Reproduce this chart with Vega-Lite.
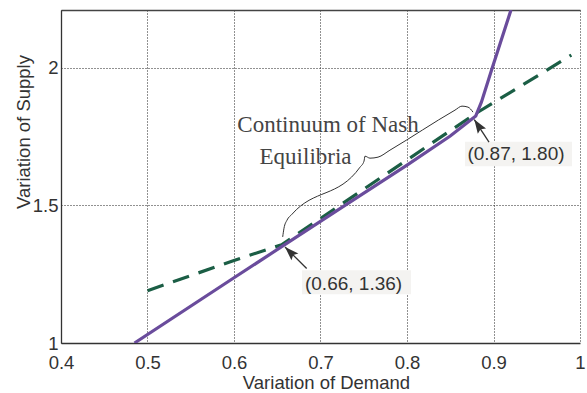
{
  "$schema": "https://vega.github.io/schema/vega-lite/v6.json",
  "width": 519,
  "height": 333,
  "autosize": {"type": "none"},
  "padding": {"left": 61, "top": 10, "right": 7, "bottom": 50},
  "background": "white",
  "config": {"view": {"stroke": null}},
  "datasets": {
    "purple": [
      {"x": 0.485, "y": 1.0},
      {"x": 0.6, "y": 1.237},
      {"x": 0.66, "y": 1.36},
      {"x": 0.7283, "y": 1.5},
      {"x": 0.8, "y": 1.646},
      {"x": 0.85, "y": 1.752},
      {"x": 0.8795, "y": 1.825},
      {"x": 0.886, "y": 1.875},
      {"x": 0.8986, "y": 2.0},
      {"x": 0.9202, "y": 2.21}
    ],
    "green": [
      {"x": 0.5, "y": 1.19},
      {"x": 0.6, "y": 1.3},
      {"x": 0.655, "y": 1.357},
      {"x": 0.88, "y": 1.835},
      {"x": 0.99, "y": 2.046}
    ],
    "brace": [
      {"i": 1, "x": 0.6563, "y": 1.3855},
      {"i": 2, "x": 0.6578, "y": 1.4171},
      {"i": 3, "x": 0.6613, "y": 1.4465},
      {"i": 4, "x": 0.6671, "y": 1.468},
      {"i": 5, "x": 0.7457, "y": 1.6389},
      {"i": 6, "x": 0.7503, "y": 1.6607},
      {"i": 7, "x": 0.7514, "y": 1.6789},
      {"i": 8, "x": 0.7572, "y": 1.6716},
      {"i": 9, "x": 0.7665, "y": 1.6753},
      {"i": 10, "x": 0.7803, "y": 1.7007},
      {"i": 11, "x": 0.8555, "y": 1.8462},
      {"i": 12, "x": 0.8636, "y": 1.8607},
      {"i": 13, "x": 0.8705, "y": 1.8571},
      {"i": 14, "x": 0.8763, "y": 1.8389}
    ],
    "notes": [
      {"x": 0.7087, "y": 1.767, "label": "Continuum of Nash"},
      {"x": 0.6827, "y": 1.652, "label": "Equilibria"}
    ],
    "pts": [
      {"x": 0.926, "y": 1.6644, "label": "(0.87, 1.80)"},
      {"x": 0.7382, "y": 1.194, "label": "(0.66, 1.36)"}
    ],
    "boxes": [
      {"x": 0.867, "x2": 0.9908, "y": 1.6425, "y2": 1.7309},
      {"x": 0.6786, "x2": 0.8046, "y": 1.1771, "y2": 1.2644}
    ],
    "arrows": [
      {"x": 0.8948, "y": 1.73, "x2": 0.8778, "y2": 1.812},
      {"x": 0.684, "y": 1.2705, "x2": 0.659, "y2": 1.349}
    ],
    "heads": [
      {"x": 0.8822, "y": 1.791, "p": "a"},
      {"x": 0.6647, "y": 1.331, "p": "b"}
    ]
  },
  "encoding": {
    "x": {"field": "x", "type": "quantitative", "scale": {"domain": [0.4, 1], "nice": false, "zero": false}, "axis": null},
    "y": {"field": "y", "type": "quantitative", "scale": {"domain": [1, 2.21], "nice": false, "zero": false}, "axis": null}
  },
  "layer": [
    {
      "data": {"name": "green"},
      "mark": {"type": "line", "color": "#1b5e45", "strokeWidth": 3.2, "strokeDash": [17, 10], "clip": true},
      "encoding": {
        "x": {"field": "x", "type": "quantitative", "scale": {"domain": [0.4, 1], "nice": false, "zero": false},
          "axis": {"orient": "top", "labels": false, "ticks": false, "grid": false, "domain": true, "domainColor": "#444", "domainWidth": 1.5, "title": null}}
      }
    },
    {
      "data": {"name": "purple"},
      "mark": {"type": "line", "color": "#6a4c9c", "strokeWidth": 3.2, "clip": true},
      "encoding": {
        "x": {"field": "x", "type": "quantitative", "scale": {"domain": [0.4, 1], "nice": false, "zero": false},
          "axis": {"orient": "bottom", "values": [0.4, 0.5, 0.6, 0.7, 0.8, 0.9, 1.0], "format": "~g", "ticks": false,
            "labelPadding": 10, "labelFlush": false, "labelOverlap": false, "labelFont": "Liberation Sans", "labelFontSize": 18.5, "labelColor": "#333",
            "grid": true, "gridColor": "#222", "gridDash": [1, 2], "gridOpacity": 1, "gridWidth": 1,
            "domain": true, "domainColor": "#333", "domainWidth": 1.3,
            "title": "Variation of Demand", "titleFont": "Liberation Sans", "titleFontSize": 18.5, "titleFontWeight": "normal", "titleColor": "#333",
            "titleX": 265, "titleY": 45, "titleBaseline": "alphabetic", "titleAlign": "center"}},
        "y": {"field": "y", "type": "quantitative", "scale": {"domain": [1, 2.21], "nice": false, "zero": false},
          "axis": {"orient": "left", "values": [1, 1.5, 2], "format": "~g", "ticks": false,
            "labelPadding": 3, "labelFlush": false, "labelOverlap": false, "labelFont": "Liberation Sans", "labelFontSize": 18.5, "labelColor": "#333",
            "grid": true, "gridColor": "#222", "gridDash": [1, 2], "gridOpacity": 1, "gridWidth": 1,
            "domain": true, "domainColor": "#333", "domainWidth": 1.3,
            "title": "Variation of Supply", "titleFont": "Liberation Sans", "titleFontSize": 18.5, "titleFontWeight": "normal", "titleColor": "#333",
            "titleAngle": -90, "titleX": -38, "titleY": 121.5, "titleBaseline": "middle", "titleAlign": "center"}}
      }
    },
    {
      "data": {"name": "brace"},
      "mark": {"type": "line", "color": "#333", "strokeWidth": 1, "interpolate": "monotone"},
      "encoding": {"order": {"field": "i", "type": "quantitative"}}
    },
    {
      "data": {"name": "boxes"},
      "mark": {"type": "rect", "color": "#f4f3f1"},
      "encoding": {
        "x2": {"field": "x2"},
        "y2": {"field": "y2"}
      }
    },
    {
      "data": {"name": "notes"},
      "mark": {"type": "text", "font": "Liberation Serif", "fontSize": 23, "color": "#444", "align": "center", "baseline": "alphabetic"},
      "encoding": {"text": {"field": "label"}}
    },
    {
      "data": {"name": "pts"},
      "mark": {"type": "text", "font": "Liberation Sans", "fontSize": 19, "color": "#333", "align": "center", "baseline": "alphabetic"},
      "encoding": {"text": {"field": "label"}}
    },
    {
      "data": {"name": "arrows"},
      "mark": {"type": "rule", "color": "#333", "strokeWidth": 1.3},
      "encoding": {
        "x2": {"field": "x2"},
        "y2": {"field": "y2"}
      }
    },
    {
      "data": {"name": "heads"},
      "transform": [{"filter": "datum.p === 'a'"}],
      "mark": {"type": "point", "shape": "M0,-1L0.7,1L0,0.65L-0.7,1Z", "size": 196, "angle": 327, "filled": true, "color": "#333", "opacity": 1}
    },
    {
      "data": {"name": "heads"},
      "transform": [{"filter": "datum.p === 'b'"}],
      "mark": {"type": "point", "shape": "M0,-1L0.7,1L0,0.65L-0.7,1Z", "size": 196, "angle": 315, "filled": true, "color": "#333", "opacity": 1}
    }
  ],
  "resolve": {"axis": {"x": "independent", "y": "independent"}}
}
